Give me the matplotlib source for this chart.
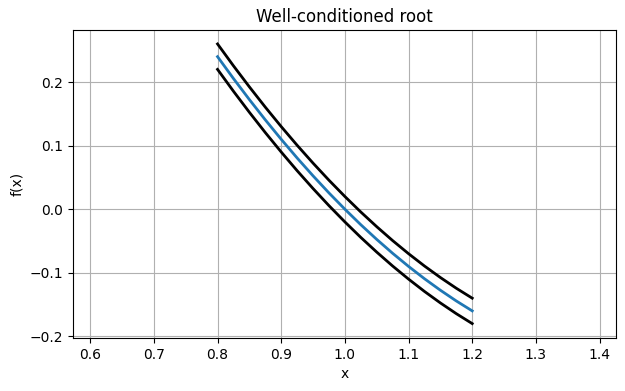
import matplotlib
matplotlib.use('Agg')
from matplotlib import pyplot as plt

# values
x = [0.8, 0.825, 0.85, 0.875, 0.9, 0.925, 0.95, 0.975, 1.0,
     1.025, 1.05, 1.075, 1.1, 1.125, 1.15, 1.175, 1.2]
f = [0.24, 0.2056, 0.1725, 0.1406, 0.11, 0.0806, 0.0525, 0.0256, 0.0,
     -0.0244, -0.0475, -0.0694, -0.09, -0.1094, -0.1275, -0.1444, -0.16]
f_upper = [0.26, 0.2256, 0.1925, 0.1606, 0.13, 0.1006, 0.0725, 0.0456, 0.02,
           -0.0044, -0.0275, -0.0494, -0.07, -0.0894, -0.1075, -0.1244, -0.14]
f_lower = [0.22, 0.1856, 0.1525, 0.1206, 0.09, 0.0606, 0.0325, 0.0056, -0.02,
           -0.0444, -0.0675, -0.0894, -0.11, -0.1294, -0.1475, -0.1644, -0.18]

fig = plt.figure(figsize=(6.25, 3.91), dpi=100)
ax = fig.add_axes([0.1168, 0.1355, 0.869, 0.7875])
ax.plot(x, f_upper, color='black', linewidth=2)
ax.plot(x, f_lower, color='black', linewidth=2)
ax.plot(x, f, color='tab:blue', linewidth=2)
ax.set_xlim(0.573, 1.426)
ax.set_ylim(-0.2027, 0.2818)
ax.set_xticks([0.6, 0.7, 0.8, 0.9, 1.0, 1.1, 1.2, 1.3, 1.4])
ax.set_yticks([-0.2, -0.1, 0.0, 0.1, 0.2])
ax.grid()
ax.set_xlabel('x')
ax.set_ylabel('f(x)')
ax.set_title('Well-conditioned root')
fig.savefig('out.png')
